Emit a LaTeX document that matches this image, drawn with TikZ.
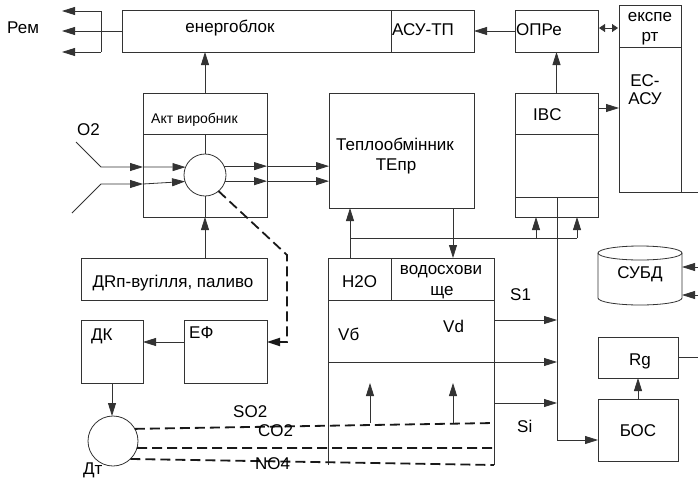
\documentclass[tikz,border=0pt]{standalone}
\usepackage{fontspec}
\setmainfont{Liberation Sans}
\usetikzlibrary{arrows.meta}
\begin{document}
\begin{tikzpicture}[x=1pt,y=-1pt,
  line/.style={draw=black!80, line width=0.8pt},
  box/.style={line, rectangle, inner sep=0pt, outer sep=0pt},
  arr/.style={line, -{Triangle[length=13pt,width=8pt]}},
  dbl/.style={line, {Triangle[length=6pt,width=8pt]}-{Triangle[length=6pt,width=8pt]}},
  dsh/.style={draw=black!90, line width=1.8pt, dash pattern=on 10pt off 5pt},
  dsharr/.style={dsh, -{Triangle[length=13pt,width=8pt]}},
  txt/.style={inner sep=0pt, font=\fontsize{17}{20}\selectfont, anchor=base},
  ltxt/.style={txt, anchor=base west},
  stxt/.style={inner sep=0pt, font=\fontsize{14}{17}\selectfont, anchor=base west},
  circ/.style={line, circle, inner sep=0pt, outer sep=0pt},
  ghost/.style={rectangle, inner sep=0pt, outer sep=0pt}
]
\useasboundingbox (0,0) rectangle (698,477);

% ---------- top row ----------
\node[box, minimum width=352pt, minimum height=42pt] (energo) at (298,31) {};
\node[box, minimum width=83pt, minimum height=42pt] (asu) at (432.5,31) {};
\node[txt] (energot) at (230,32) {енергоблок};
\node[ltxt] (asut) at (392,35) {АСУ-ТП};
\node[ltxt] (remt) at (7,33) {Рем};

\coordinate (remtop) at (101,11);
\coordinate (rembot) at (101,52);
\coordinate (remtopend) at (62,11);
\coordinate (rembotend) at (62,52);
\coordinate (remmidend) at (62,31);
\draw[line] (remtop) -- (rembot);
\draw[arr] (remtop) -- (remtopend);
\draw[arr] (rembot) -- (rembotend);
\draw[arr] (energo.west) -- (remmidend);

\node[box, minimum width=83pt, minimum height=42pt] (opre) at (556.5,31) {};
\node[ltxt] (opret) at (516,35) {ОПРе};
\draw[arr] (opre.west) -- (asu.east);

\node[box, minimum width=62pt, minimum height=42pt] (exp) at (650,26) {};
\node[box, minimum width=62pt, minimum height=145pt] (ecasu) at (650,119.5) {};
\node[txt] (expt1) at (650,21) {експе};
\node[txt] (expt2) at (650,41) {рт};
\node[txt] (ect1) at (645,86) {ЕС-};
\node[txt] (ect2) at (645,104) {АСУ};
\coordinate (ecout) at (698,192);
\draw[line] (ecasu.south east) -- (ecout);
\coordinate (dblL) at (599,28);
\coordinate (dblR) at (618,28);
\draw[dbl] (dblL) -- (dblR);

% ---------- IBC ----------
\node[box, minimum width=83pt, minimum height=124pt] (ibc) at (556.5,155) {};
\draw[line] (515,134) -- (598,134);
\draw[line] (515,197) -- (598,197);
\node[ltxt] (ibct) at (533,120) {IBC};
\draw[arr] (ibc.north) -- (opre.south);
\coordinate (ibcR) at (598,108);
\draw[arr] (ibcR) -- (ecasu.west |- ibcR);

% ---------- heat exchanger ----------
\node[box, minimum width=145pt, minimum height=115pt] (teplo) at (401.5,150.5) {};
\node[txt] (teplot1) at (395,150) {Теплообмінник};
\node[txt] (teplot2) at (396,170) {ТЕпр};

% ---------- Акт виробник ----------
\node[box, minimum width=124pt, minimum height=124pt] (akt) at (205,155) {};
\draw[line] (143,134) -- (267,134);
\node[stxt] (aktt) at (151,123) {Акт виробник};
\node[circ, minimum size=42pt] (reac) at (205,175) {};
\draw[line] (205,134) -- (reac.north);
\draw[line] (reac.south) -- (205,217);
\draw[arr] (akt.north) -- (energo.south -| akt.north);

\node[ltxt] (o2t) at (77,135) {O2};
\coordinate (in1a) at (76,142);
\coordinate (in1b) at (101,167);
\coordinate (in2a) at (72,213);
\coordinate (in2b) at (101,184);
\draw[arr] (in1a) -- (in1b) -- (akt.west |- in1b);
\draw[arr] (akt.west |- in1b) -- (reac.158);
\draw[arr] (in2a) -- (in2b) -- (akt.west |- in2b);
\draw[arr] (akt.west |- in2b) -- (reac.198);

\draw[arr] (reac.25) -- (akt.east |- reac.25);
\draw[arr] (akt.east |- reac.25) -- (teplo.west |- reac.25);
\draw[arr] (reac.-17) -- (akt.east |- reac.-17);
\draw[arr] (akt.east |- reac.-17) -- (teplo.west |- reac.-17);

% ---------- fuel ----------
\node[box, minimum width=186pt, minimum height=42pt] (drp) at (174,279) {};
\node[txt] (drpt) at (173,287) {ДRп-вугілля, паливо};
\draw[arr] (drp.north -| akt.south) -- (akt.south);

% ---------- ЕФ, ДК, Дт ----------
\node[box, minimum width=83pt, minimum height=63pt] (ef) at (225.5,351.5) {};
\node[ltxt] (eft) at (189,338) {ЕФ};
\node[box, minimum width=62pt, minimum height=63pt] (dk) at (112,351.5) {};
\node[ltxt] (dkt) at (91,340) {ДК};
\coordinate (efy) at (0,342);
\draw[arr] (ef.west |- efy) -- (dk.east |- efy);

\coordinate (dash1) at (287,255);
\coordinate (dash2) at (287,342);
\draw[dsharr] (reac.-50) -- (dash1) -- (dash2) -- (ef.east |- dash2);

\node[circ, minimum size=50pt] (dt) at (113,441) {};
\node[ltxt] (dtt) at (83,474) {Дт};
\draw[arr] (dk.south) -- (dk.south |- dt.north);

% ---------- water reservoir ----------
\node[ghost, minimum width=166pt, minimum height=207pt] (water) at (411,361.5) {};
\draw[line] (water.south west) -- (water.north west) -- (water.north east) -- (water.south east);
\draw[line] (328,300) -- (494,300);
\draw[line] (391,258) -- (391,300);
\node[ltxt] (h2ot) at (342,287) {H2O};
\node[txt] (vodt1) at (441,274) {водосхови};
\node[txt] (vodt2) at (442,295) {ще};
\node[ltxt] (vbt) at (338,340) {Vб};
\node[ltxt] (vdt) at (443,332) {Vd};

\coordinate (sbus) at (557,197);
\coordinate (sbusend) at (557,440);
\draw[line] (sbus) -- (sbusend);
\draw[line] (328,362) -- (494,362);
\draw[arr] (494,320) -- (sbus |- 0,320);
\draw[arr] (494,362) -- (sbus |- 0,362);
\draw[arr] (494,403) -- (sbus |- 0,403);
\node[ltxt] (s1t) at (510,300) {S1};
\node[ltxt] (sit) at (517,432) {Si};

\coordinate (up1) at (370,423);
\coordinate (up2) at (453,423);
\draw[arr] (up1) -- (370,383);
\draw[arr] (up2) -- (453,383);

% ---------- emission lines ----------
\coordinate (e1) at (494,423);
\coordinate (e2) at (494,448);
\coordinate (e3) at (494,465);
\draw[dsh] (dt.29) -- (e1);
\draw[dsh] (dt.-16) -- (e2);
\draw[dsh] (dt.-46) -- (e3);
\node[ltxt] (so2t) at (233,417) {SO2};
\node[ltxt] (co2t) at (258,436) {CO2};
\node[ltxt] (no4t) at (255,469) {NO4};

% ---------- links between teplo / water / IBC ----------
\coordinate (busL) at (350,238);
\coordinate (busR) at (577,238);
\draw[line] (busL) -- (busR);
\draw[arr] (water.north -| busL) -- (teplo.south -| busL);
\draw[arr] (teplo.south -| 453,0) -- (water.north -| 453,0);
\draw[arr] (536,238) -- (ibc.south -| 536,0);
\draw[arr] (busR) -- (ibc.south -| busR);

% ---------- СУБД ----------
\node[ghost, minimum width=84pt, minimum height=52pt] (subd) at (640,276) {};
\draw[line] (598,253) -- (598,298) arc[start angle=180, end angle=0, x radius=42, y radius=7] -- (682,253);
\draw[line] (640,253) ellipse [x radius=42, y radius=7];
\node[txt] (subdt) at (640,278) {СУБД};
\coordinate (db1) at (698,267);
\coordinate (db2) at (698,295);
\draw[arr] (db1) -- (subd.east |- db1);
\draw[arr] (db2) -- (subd.east |- db2);

% ---------- Rg, БОС ----------
\node[box, minimum width=80pt, minimum height=41pt] (rg) at (638,357.5) {};
\node[txt] (rgt) at (640,365) {Rg};
\node[box, minimum width=80pt, minimum height=62pt] (bos) at (638,430) {};
\node[txt] (bost) at (638,436) {БОС};
\draw[arr] (bos.north) -- (rg.south);
\coordinate (rgout) at (698,357.5);
\draw[line] (rg.east) -- (rgout);
\draw[arr] (sbusend) -- (bos.west |- sbusend);
\end{tikzpicture}
\end{document}
